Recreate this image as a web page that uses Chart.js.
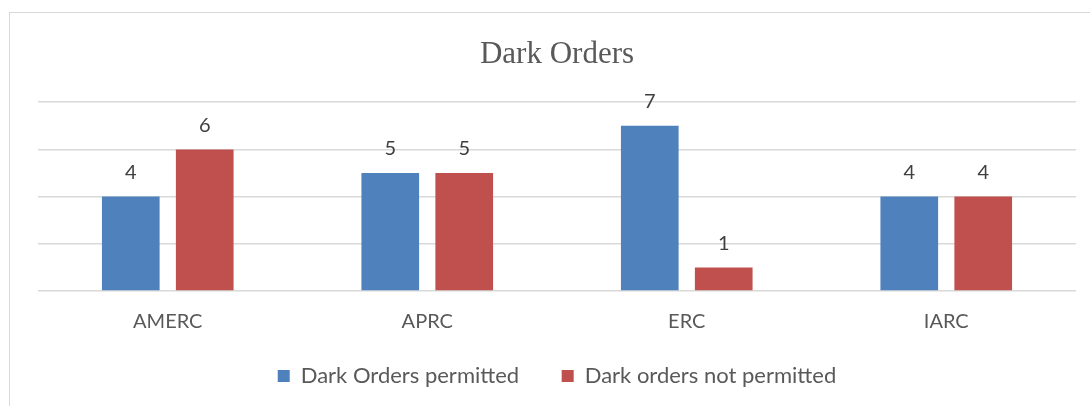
<!DOCTYPE html>
<html>
<head>
<meta charset="utf-8">
<script src="https://cdn.jsdelivr.net/npm/chart.js@4"></script>
<style>
  html, body { margin: 0; padding: 0; background: #fff; }
  #wrap { position: relative; width: 1090px; height: 406px; overflow: hidden; }
  #frame { position: absolute; left: 9px; top: 12px; width: 1200px; height: 500px; border: 1px solid #d9d9d9; }
  #graph { position: absolute; left: 0; top: 0; }
</style>
</head>
<body>
<div id="wrap">
  <div id="frame"></div>
  <canvas id="graph" width="1090" height="406"></canvas>
</div>
<script>
  // Données du graphique
  const regions = ["AMERC", "APRC", "ERC", "IARC"];
  const permitted = [4, 5, 7, 4];
  const notPermitted = [6, 5, 1, 4];
  const seriesNames = ["Dark Orders permitted", "Dark orders not permitted"];
  const chartTitle = "Dark Orders";

  // Plugin pour afficher les valeurs au dessus des barres
  const valueLabels = {
    id: "valueLabels",
    afterDatasetsDraw(chart) {
      const ctx = chart.ctx;
      ctx.save();
      ctx.font = "20px Lato";
      ctx.fillStyle = "#404040";
      ctx.textAlign = "center";
      ctx.textBaseline = "bottom";
      chart.data.datasets.forEach((ds, i) => {
        chart.getDatasetMeta(i).data.forEach((bar, j) => {
          ctx.fillText(ds.data[j], bar.x, bar.y - 14);
        });
      });
      ctx.restore();
    },
  };

  new Chart("graph", {
    type: "bar",
    data: {
      labels: regions,
      datasets: [
        {
          label: seriesNames[0],
          data: permitted,
          backgroundColor: "#4f81bd",
          categoryPercentage: 0.57,
          barPercentage: 0.78,
        },
        {
          label: seriesNames[1],
          data: notPermitted,
          backgroundColor: "#c0504d",
          categoryPercentage: 0.57,
          barPercentage: 0.78,
        },
      ],
    },
    options: {
      responsive: false,
      animation: false,
      layout: { padding: { left: 38, right: 14, top: 0, bottom: 9 } },
      scales: {
        x: {
          grid: { display: false },
          border: { display: false },
          ticks: { color: "#595959", font: { family: "Lato", size: 20 }, padding: 11 },
        },
        y: {
          min: 0,
          max: 8,
          ticks: { display: false, stepSize: 2 },
          grid: { color: "#d9d9d9", lineWidth: 1.5, drawTicks: false },
          border: { display: false },
        },
      },
      plugins: {
        title: {
          display: true,
          text: chartTitle,
          color: "#595959",
          font: { family: "Liberation Serif", size: 31, weight: "normal" },
          padding: { top: 36, bottom: 29 },
        },
        legend: {
          position: "bottom",
          labels: {
            color: "#595959",
            font: { family: "Lato", size: 22 },
            boxWidth: 12,
            boxHeight: 12,
            padding: 20,
            // espaces en fin de libellé pour écarter les deux entrées
            generateLabels: (chart) => {
              const items = Chart.defaults.plugins.legend.labels.generateLabels(chart);
              items.forEach((item, i) => {
                if (i < items.length - 1) item.text += "    ";
              });
              return items;
            },
          },
        },
        tooltip: { enabled: false },
      },
    },
    plugins: [valueLabels],
  });
</script>
</body>
</html>
